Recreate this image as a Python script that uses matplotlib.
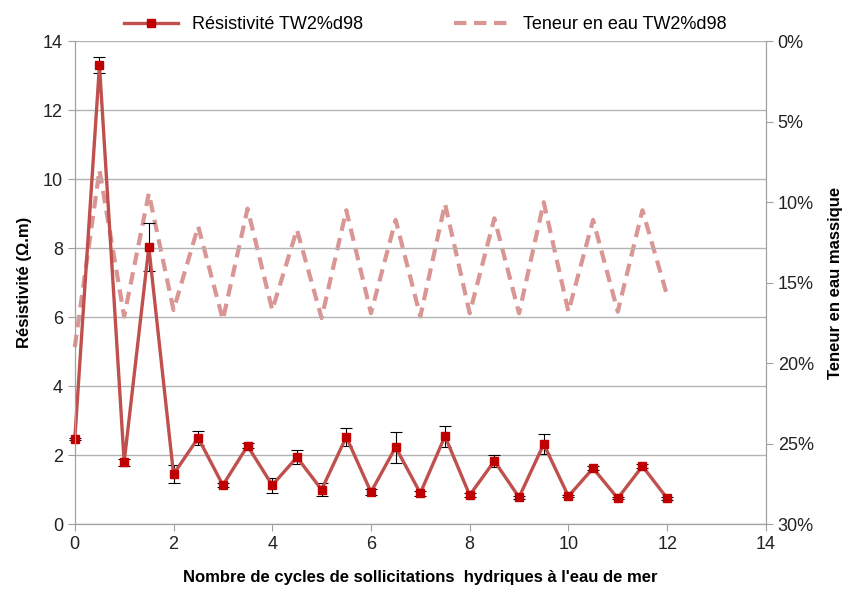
import numpy as np
import matplotlib.pyplot as plt
from matplotlib.ticker import FuncFormatter
from matplotlib.lines import Line2D

plt.rcParams['font.family'] = ['Liberation Sans', 'DejaVu Sans']

cycles = [0, 0.5, 1, 1.5, 2, 2.5, 3, 3.5, 4, 4.5, 5, 5.5, 6, 6.5, 7, 7.5, 8, 8.5,
          9, 9.5, 10, 10.5, 11, 11.5, 12]

resistivite = [2.47, 13.3, 1.8, 8.03, 1.45, 2.5, 1.13, 2.27, 1.13, 1.94, 1.0, 2.53,
               0.93, 2.23, 0.9, 2.55, 0.84, 1.83, 0.78, 2.32, 0.81, 1.62, 0.75, 1.68, 0.75]
erreur = [0.04, 0.23, 0.1, 0.7, 0.27, 0.2, 0.05, 0.07, 0.22, 0.2, 0.18, 0.27,
          0.08, 0.45, 0.07, 0.3, 0.05, 0.17, 0.05, 0.3, 0.03, 0.06, 0.03, 0.06, 0.04]

teneur = [19.0, 8.0, 17.1, 9.45, 16.7, 11.5, 17.3, 10.4, 16.7, 11.7, 17.2, 10.5,
          16.9, 11.1, 17.1, 10.1, 16.9, 11.0, 16.9, 10.0, 16.8, 11.1, 16.8, 10.5, 15.8]

grid_c = '#B3B3B3'
axis_c = '#A0A0A0'
res_c = '#C0504D'
mark_c = '#C00000'
eau_c = '#D99694'
tirets = (0, (3, 1.8))

fig = plt.figure(figsize=(8.5, 5.97), dpi=100)
ax = fig.add_axes([0.088, 0.122, 0.813, 0.809])
ax2 = ax.twinx()

ax.set_zorder(2)
ax.patch.set_visible(False)

ax.errorbar(cycles, resistivite, yerr=erreur, color=res_c, lw=2.4,
            marker='s', ms=6, mfc=mark_c, mec=mark_c,
            ecolor='black', elinewidth=0.8, capsize=4, capthick=0.8, clip_on=False)
ax2.plot(cycles, teneur, color=eau_c, lw=3, ls=tirets, clip_on=False)

ax.set_xlim(0, 14)
ax.set_ylim(0, 14)
ax.set_xticks(range(0, 15, 2))
ax.set_yticks(range(0, 15, 2))
ax.yaxis.grid(True, color=grid_c, lw=1)
ax.set_axisbelow(True)

ax2.set_ylim(30, 0)
ax2.set_yticks(range(0, 31, 5))
ax2.yaxis.set_major_formatter(FuncFormatter(lambda v, p: f'{v:.0f}%'))

for a in (ax, ax2):
    a.spines['top'].set_visible(False)
    for s in ('left', 'right', 'bottom'):
        a.spines[s].set_color(axis_c)
    a.tick_params(colors=axis_c, labelcolor='#222222', labelsize=13, length=5,
                  direction='out')

ax.set_xlabel("Nombre de cycles de sollicitations  hydriques à l'eau de mer",
              fontsize=12, fontweight='bold', labelpad=12)
ax.set_ylabel('Résistivité (Ω.m)', fontsize=12, fontweight='bold', labelpad=8)
ax2.set_ylabel('Teneur en eau massique', fontsize=12, fontweight='bold', labelpad=10)

handles = [Line2D([], [], color=res_c, lw=2.4, marker='s', ms=6, mfc=mark_c, mec=mark_c),
           Line2D([], [], color=eau_c, lw=3, ls=tirets)]
labels = ['Résistivité TW2%d98', 'Teneur en eau TW2%d98']
fig.legend(handles, labels, loc='upper center', bbox_to_anchor=(0.5, 1.0),
           ncol=2, frameon=False, fontsize=13, columnspacing=5, handlelength=3)

fig.savefig('out.png', dpi=100)
